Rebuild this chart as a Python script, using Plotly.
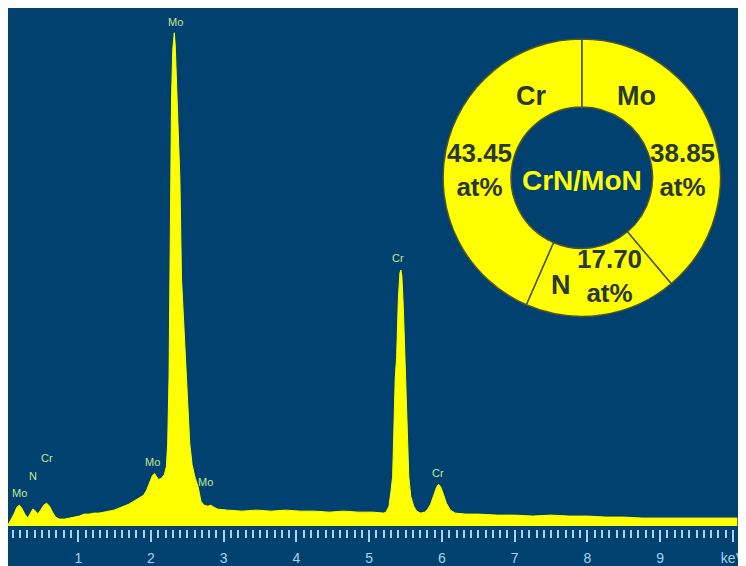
import plotly.graph_objects as go

# ---------------- EDS spectrum ----------------
energy_kev = [
    0.034, 0.075, 0.116, 0.156, 0.190, 0.224, 0.265, 0.306, 0.333, 0.374,
    0.401, 0.442, 0.483, 0.524, 0.565, 0.605, 0.646, 0.687, 0.741, 0.810,
    0.878, 0.946, 1.014, 1.082, 1.150, 1.218, 1.286, 1.354, 1.422, 1.490,
    1.558, 1.626, 1.694, 1.762, 1.830, 1.898, 1.939, 1.980, 2.020, 2.048,
    2.075, 2.102, 2.143, 2.184, 2.211, 2.229, 2.248, 2.261, 2.269, 2.282,
    2.299, 2.313, 2.320, 2.333, 2.361, 2.397, 2.419, 2.456, 2.487, 2.533,
    2.565, 2.601, 2.646, 2.687, 2.728, 2.782, 2.823, 2.864, 2.918, 3.054,
    3.25, 3.45, 3.65, 3.85, 4.05, 4.25, 4.45, 4.65, 4.85, 5.05,
    5.20, 5.231, 5.272, 5.299, 5.322, 5.358, 5.377, 5.401, 5.422, 5.435,
    5.449, 5.469, 5.493, 5.503, 5.544, 5.571, 5.612, 5.653, 5.707, 5.762,
    5.803, 5.844, 5.884, 5.925, 5.952, 5.980, 6.020, 6.061, 6.116, 6.184,
    6.320, 6.50, 6.75, 7.00, 7.25, 7.50, 7.75, 8.00, 8.25, 8.50,
    8.75, 9.00, 9.25, 9.50, 9.75, 10.06,
]
counts = [
    1, 6, 12, 19, 21, 18, 12, 8, 12, 17,
    16, 12, 16, 21, 23, 20, 14, 9, 7, 7,
    8, 9, 10, 12, 12, 13, 13, 14, 15, 16,
    18, 20, 22, 25, 28, 31, 36, 44, 51, 53,
    50, 47, 48, 52, 60, 83, 150, 250, 350, 430,
    480, 495, 497, 485, 430, 350, 250, 190, 150, 83,
    62, 50, 40, 25, 21, 20, 21, 19, 17, 16,
    15, 16, 15, 16, 15, 15, 14, 15, 14, 14,
    13, 14, 20, 35, 50, 150, 170, 230, 255, 258,
    252, 220, 170, 150, 50, 30, 20, 15, 13, 14,
    17, 22, 30, 39, 42, 40, 32, 23, 16, 13,
    12, 12, 11, 11, 10, 11, 10, 10, 9, 9,
    8, 8, 8, 8, 8, 8,
]

# peak labels
peak_labels = ["Mo", "N", "Cr", "Mo", "Mo", "Mo", "Cr", "Cr"]
peak_label_kev = [0.197, 0.374, 0.565, 2.020, 2.333, 2.755, 5.395, 5.952]
peak_label_counts = [33, 50, 69, 65, 508, 44, 270, 53]

# axis ticks
tick_vals = [1, 2, 3, 4, 5, 6, 7, 8, 9, 10]
tick_text = ["1", "2", "3", "4", "5", "6", "7", "8", "9", "keV"]

# ---------------- composition donut ----------------
elements = ["Mo", "N", "Cr"]
at_pct = [38.85, 17.70, 43.45]
center_label = "CrN/MoN"

BLUE = "#01416f"
YELLOW = "#ffff00"
TICK = "#a6d3f2"
DARK = "#2a3833"
LABEL = "#c4e88c"

fig = go.Figure()

fig.add_trace(go.Scatter(
    x=energy_kev, y=counts, mode="lines", fill="tozeroy",
    line=dict(color=YELLOW, width=1), fillcolor=YELLOW,
    hoverinfo="skip", showlegend=False,
))

for t, ex, cy in zip(peak_labels, peak_label_kev, peak_label_counts):
    fig.add_annotation(x=ex, y=cy, xref="x", yref="y", text=t, showarrow=False,
                       xanchor="center", yanchor="middle",
                       font=dict(family="Liberation Sans, Arial", size=11, color=LABEL))

fig.add_trace(go.Pie(
    labels=elements, values=at_pct, hole=0.51, sort=False,
    direction="clockwise", rotation=0, textinfo="none",
    marker=dict(colors=[YELLOW] * 3, line=dict(color="#4d5530", width=1.5)),
    domain=dict(x=[0.596, 0.976], y=[0.4076, 0.941]),
    showlegend=False, hoverinfo="skip",
))

# donut labels (paper coords)
name_font = dict(family="Liberation Sans, Arial", size=27, color=DARK)
value_font = dict(family="Liberation Sans, Arial", size=26, color=DARK)
name_pos = {"Mo": (0.861, 0.8305), "N": (0.7575, 0.4686), "Cr": (0.7168, 0.8305)}
value_pos = {"Mo": (0.924, 0.6895), "N": (0.8238, 0.4857), "Cr": (0.6463, 0.6895)}
for el, v in zip(elements, at_pct):
    nx, ny = name_pos[el]
    fig.add_annotation(x=nx, y=ny, xref="paper", yref="paper", showarrow=False,
                       xanchor="center", yanchor="middle",
                       text=f"<b>{el}</b>", font=name_font)
    vx, vy = value_pos[el]
    fig.add_annotation(x=vx, y=vy, xref="paper", yref="paper", showarrow=False,
                       xanchor="center", yanchor="middle",
                       text=f"<b>{v:.2f}<br>at%</b>", font=value_font)
fig.add_annotation(x=0.786, y=0.6686, xref="paper", yref="paper", showarrow=False,
                   xanchor="center", yanchor="middle",
                   text=f"<b>{center_label}</b>",
                   font=dict(family="Liberation Sans, Arial", size=28, color=YELLOW))

fig.update_layout(
    width=738, height=558,
    margin=dict(l=0, r=0, t=0, b=33),
    paper_bgcolor=BLUE, plot_bgcolor=BLUE,
    xaxis=dict(
        range=[0.034, 10.07], showgrid=False, zeroline=False, showline=False,
        tickmode="array", tickvals=tick_vals, ticktext=tick_text,
        ticks="outside", ticklen=12, tickwidth=2, tickcolor=TICK,
        ticklabeloverflow="allow", ticklabelstandoff=4,
        tickfont=dict(family="Liberation Sans, Arial", size=14, color=TICK),
        minor=dict(tickmode="linear", tick0=0, dtick=0.1, ticks="outside",
                   ticklen=8, tickwidth=2, tickcolor=TICK),
    ),
    yaxis=dict(range=[-3, 522], visible=False, showgrid=False, zeroline=False),
)

fig.write_html("out.html", config={"displayModeBar": False})
